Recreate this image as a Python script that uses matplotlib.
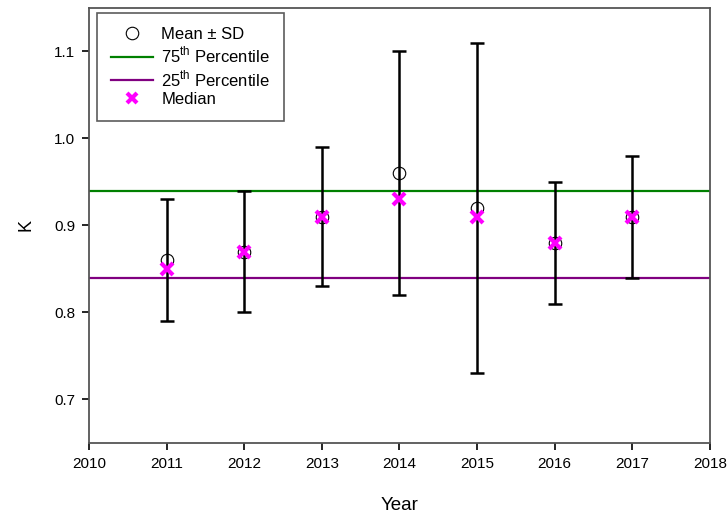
import matplotlib.pyplot as plt
from matplotlib.lines import Line2D

plt.rcParams['font.family'] = ['Liberation Sans', 'DejaVu Sans']
plt.rcParams['mathtext.fontset'] = 'custom'
plt.rcParams['mathtext.rm'] = 'Liberation Sans'

years = [2011, 2012, 2013, 2014, 2015, 2016, 2017]
mean_k = [0.86, 0.87, 0.91, 0.96, 0.92, 0.88, 0.91]
sd_k = [0.07, 0.07, 0.08, 0.14, 0.19, 0.07, 0.07]
median_k = [0.85, 0.87, 0.91, 0.93, 0.91, 0.88, 0.91]
p75 = 0.94
p25 = 0.84

fig = plt.figure(figsize=(7.27, 5.16), dpi=100)
ax = fig.add_axes([0.1224, 0.1415, 0.8542, 0.843])

ax.axhline(p75, color='green', lw=1.6, zorder=1)
ax.axhline(p25, color='purple', lw=1.6, zorder=1)

ax.errorbar(years, mean_k, yerr=sd_k, fmt='none', ecolor='black',
            elinewidth=1.8, capsize=5, capthick=1.8, zorder=2)
ax.plot(years, mean_k, 'o', mfc='none', mec='black', ms=9, mew=0.8, zorder=3)
ax.plot(years, median_k, 'x', color='magenta', ms=8, mew=3, zorder=4)

ax.set_xlim(2010, 2018)
ax.set_ylim(0.65, 1.15)
ax.set_xticks(range(2010, 2019))
ax.set_yticks([0.7, 0.8, 0.9, 1.0, 1.1])
ax.set_yticklabels(['0.7', '0.8', '0.9', '1.0', '1.1'])
ax.tick_params(labelsize=11, length=5, width=1.2, colors='black', pad=5)
for s in ax.spines.values():
    s.set_color('#555555')
    s.set_linewidth(1.3)

ax.set_xlabel('Year', fontsize=13.5, labelpad=19)
ax.set_ylabel('K', fontsize=13, labelpad=14)

handles = [
    Line2D([], [], ls='none', marker='o', mfc='none', mec='black', ms=9, mew=0.8),
    Line2D([], [], color='green', lw=1.6),
    Line2D([], [], color='purple', lw=1.6),
    Line2D([], [], ls='none', marker='x', color='magenta', ms=7, mew=3),
]
labels = ['Mean \u00b1 SD', '75$^{\\rm th}$ Percentile',
          '25$^{\\rm th}$ Percentile', 'Median']
leg = ax.legend(handles, labels, loc='upper left', fontsize=12,
                frameon=True, fancybox=False, handlelength=2.5,
                borderpad=0.85, labelspacing=0.18, handletextpad=0.5,
                bbox_to_anchor=(0.013, 0.989), borderaxespad=0.0)
leg.get_frame().set_edgecolor('#333333')
leg.get_frame().set_linewidth(1.2)

fig.savefig('out.png', dpi=100)
